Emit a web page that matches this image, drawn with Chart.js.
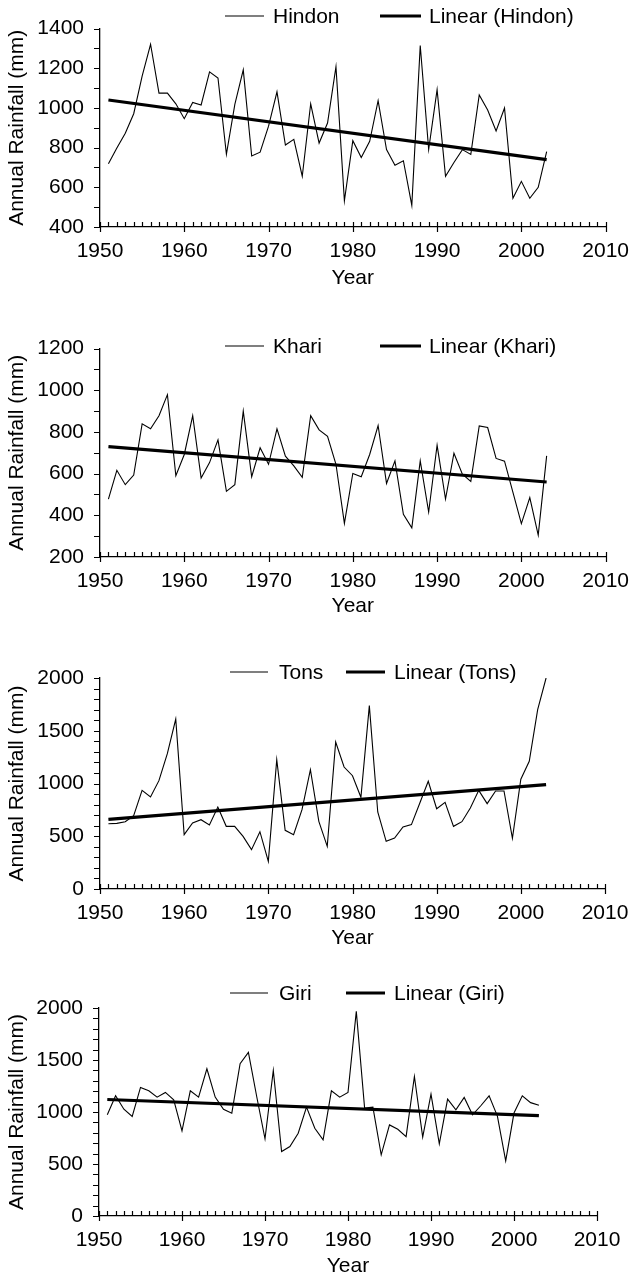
<!DOCTYPE html>
<html>
<head>
<meta charset="utf-8">
<script src="https://cdn.jsdelivr.net/npm/chart.js@4"></script>
<style>
  html, body { margin: 0; padding: 0; background: #fff; }
  body { width: 641px; height: 1278px; position: relative; overflow: hidden; }
  canvas { position: absolute; left: 0; }
</style>
</head>
<body>
<canvas id="c1"></canvas>
<canvas id="c2"></canvas>
<canvas id="c3"></canvas>
<canvas id="c4"></canvas>
<script>
// ---------------- DATA ----------------
const years = [1951, 1952, 1953, 1954, 1955, 1956, 1957, 1958, 1959, 1960,
               1961, 1962, 1963, 1964, 1965, 1966, 1967, 1968, 1969, 1970,
               1971, 1972, 1973, 1974, 1975, 1976, 1977, 1978, 1979, 1980,
               1981, 1982, 1983, 1984, 1985, 1986, 1987, 1988, 1989, 1990,
               1991, 1992, 1993, 1994, 1995, 1996, 1997, 1998, 1999, 2000,
               2001, 2002, 2003];

const hindon = [719, 798, 873, 971, 1160, 1321, 1075, 1075, 1021, 946,
                1028, 1015, 1182, 1151, 766, 1018, 1192, 758, 777, 908,
                1081, 813, 842, 656, 1021, 823, 924, 1208, 532, 835,
                750, 832, 1037, 790, 711, 734, 509, 1315, 790, 1092,
                656, 725, 790, 766, 1066, 990, 884, 1000, 545, 630,
                545, 600, 780];

const khari = [478, 616, 547, 593, 839, 815, 878, 979, 590, 692,
               878, 579, 653, 762, 515, 547, 900, 585, 724, 645,
               815, 684, 637, 582, 878, 810, 779, 645, 361, 601,
               585, 692, 831, 553, 661, 405, 340, 661, 416, 736,
               478, 698, 597, 563, 829, 821, 673, 660, 510, 360,
               485, 305, 685];

const tons = [619, 622, 638, 695, 935, 872, 1027, 1283, 1611, 515,
              626, 657, 607, 777, 594, 594, 499, 373, 543, 262,
              1226, 556, 515, 752, 1131, 641, 404, 1393, 1156, 1074,
              869, 1738, 730, 452, 483, 588, 610, 815, 1021, 761,
              821, 594, 638, 768, 935, 809, 929, 929, 480, 1040,
              1210, 1700, 2000];

const giri = [973, 1156, 1027, 957, 1236, 1204, 1143, 1188, 1117, 819,
              1204, 1143, 1416, 1143, 1027, 989, 1464, 1573, 1149, 742,
              1400, 620, 668, 796, 1047, 844, 732, 1204, 1143, 1188,
              1968, 1037, 1047, 588, 876, 834, 764, 1342, 758, 1172,
              693, 1124, 1021, 1140, 973, 1060, 1156, 960, 530, 990,
              1155, 1090, 1065];

// Linear trend lines (end points)
const trendYears  = [1951, 2003];
const trendHindon = [1040, 740];
const trendKhari  = [730, 560];
const trendTons   = [660, 990];
const trendGiri   = [1120, 966];

// Axis ranges / tick steps
const xRange = [1950, 2010];
const xStep = 10;
const yRangeHindon = [400, 1400];
const yRangeKhari  = [200, 1200];
const yRangeTons   = [0, 2000];
const yRangeGiri   = [0, 2000];
const yStepHindon = 200, yStepKhari = 200, yStepTons = 500, yStepGiri = 500;
const yMinorStep = 100;

// ---------------- STYLE ----------------
const FONT = '"Liberation Sans", Arial, Helvetica, sans-serif';
const FS = 21;
Chart.defaults.font.family = FONT;
Chart.defaults.font.size = FS;
Chart.defaults.color = '#000';

const axisTicks = {
  id: 'axisTicks',
  afterDraw(chart, args, o) {
    const { ctx, chartArea: a } = chart;
    const x = chart.scales.x, y = chart.scales.y;
    ctx.save();
    ctx.strokeStyle = '#000';
    ctx.lineWidth = 1.2;
    ctx.beginPath();
    for (let v = x.min; v <= x.max; v += 1) {
      const px = Math.round(x.getPixelForValue(v)) + 0.5;
      const major = (v % 10 === 0);
      ctx.moveTo(px, a.bottom - 5);
      ctx.lineTo(px, major ? a.bottom + 5 : a.bottom);
    }
    for (let v = y.min; v <= y.max; v += o.minor) {
      const py = Math.round(y.getPixelForValue(v)) + 0.5;
      ctx.moveTo(a.left - 6, py);
      ctx.lineTo(a.left, py);
    }
    ctx.stroke();
    ctx.restore();
  }
};

const customLegend = {
  id: 'customLegend',
  afterDraw(chart, args, o) {
    const ctx = chart.ctx;
    ctx.save();
    ctx.font = FS + 'px ' + FONT;
    ctx.fillStyle = '#000';
    ctx.textBaseline = 'middle';
    ctx.textAlign = 'left';
    chart.data.datasets.forEach((ds, i) => {
      const it = o.items[i];
      ctx.strokeStyle = ds.borderColor;
      ctx.lineWidth = ds.borderWidth;
      ctx.beginPath();
      ctx.moveTo(it.x1, o.y);
      ctx.lineTo(it.x2, o.y);
      ctx.stroke();
      ctx.fillText(ds.label, it.tx, o.y + 1);
    });
    ctx.restore();
  }
};

function build(id, L, label, values, trend, yRange, yStep) {
  const cv = document.getElementById(id);
  const H = L.canvasH;
  cv.width = 641; cv.height = H;
  cv.style.top = L.canvasTop + 'px';
  cv.style.width = '641px'; cv.style.height = H + 'px';
  const areaTop = L.areaTop - L.canvasTop;
  const areaBot = L.areaBot - L.canvasTop;
  const yearY = L.yearY - L.canvasTop;
  const legendY = L.legendY - L.canvasTop;

  return new Chart(cv, {
    type: 'line',
    data: {
      datasets: [
        {
          label: label,
          data: years.map((yr, i) => ({ x: yr, y: values[i] })),
          borderColor: '#000', borderWidth: 1.1,
          pointRadius: 0, tension: 0, fill: false
        },
        {
          label: 'Linear (' + label + ')',
          data: trendYears.map((yr, i) => ({ x: yr, y: trend[i] })),
          borderColor: '#000', borderWidth: 3.2,
          pointRadius: 0, tension: 0, fill: false
        }
      ]
    },
    options: {
      responsive: false,
      animation: false,
      events: [],
      layout: { padding: { top: areaTop, right: 641 - L.areaRight, left: 0, bottom: 0 } },
      plugins: {
        legend: { display: false },
        tooltip: { enabled: false },
        axisTicks: { minor: yMinorStep },
        customLegend: { y: legendY, items: L.legendItems }
      },
      scales: {
        x: {
          type: 'linear', min: xRange[0], max: xRange[1],
          afterFit(s) { s.height = H - areaBot; },
          ticks: { stepSize: xStep, padding: 12, maxRotation: 0, autoSkip: false,
                   callback: v => String(v), color: '#000' },
          grid: { display: true, drawOnChartArea: false, drawTicks: false },
          border: { display: true, color: '#000', width: 1.3 },
          title: { display: true, text: 'Year', color: '#000',
                   font: { size: FS, lineHeight: 1 },
                   padding: { top: 0, bottom: H - yearY - FS / 2 } }
        },
        y: {
          type: 'linear', min: yRange[0], max: yRange[1],
          afterFit(s) { s.width = L.areaLeft; },
          ticks: { stepSize: yStep, padding: 16, callback: v => String(v), color: '#000' },
          grid: { display: true, drawOnChartArea: false, drawTicks: false },
          border: { display: true, color: '#000', width: 1.3 },
          title: { display: true, text: 'Annual Rainfall (mm)', color: '#000',
                   font: { size: FS, lineHeight: 1 },
                   padding: { top: 7, bottom: 0 } }
        }
      }
    },
    plugins: [axisTicks, customLegend]
  });
}

const legendWide = [{ x1: 225, x2: 264, tx: 273 }, { x1: 380, x2: 421, tx: 429 }];
const legendTight = [{ x1: 230, x2: 268, tx: 279 }, { x1: 346, x2: 385, tx: 394 }];

build('c1', { canvasTop: 0, canvasH: 320, areaTop: 16, areaBot: 227, areaLeft: 100, areaRight: 612,
              yearY: 278, legendY: 16, legendItems: legendWide },
      'Hindon', hindon, trendHindon, yRangeHindon, yStepHindon);
build('c2', { canvasTop: 320, canvasH: 320, areaTop: 346, areaBot: 557, areaLeft: 100, areaRight: 611,
              yearY: 606, legendY: 346, legendItems: legendWide },
      'Khari', khari, trendKhari, yRangeKhari, yStepKhari);
build('c3', { canvasTop: 640, canvasH: 320, areaTop: 678, areaBot: 889, areaLeft: 100, areaRight: 605,
              yearY: 938, legendY: 672, legendItems: legendTight },
      'Tons', tons, trendTons, yRangeTons, yStepTons);
build('c4', { canvasTop: 960, canvasH: 318, areaTop: 1008, areaBot: 1216, areaLeft: 99, areaRight: 597,
              yearY: 1266, legendY: 993, legendItems: legendTight },
      'Giri', giri, trendGiri, yRangeGiri, yStepGiri);
</script>
</body>
</html>
